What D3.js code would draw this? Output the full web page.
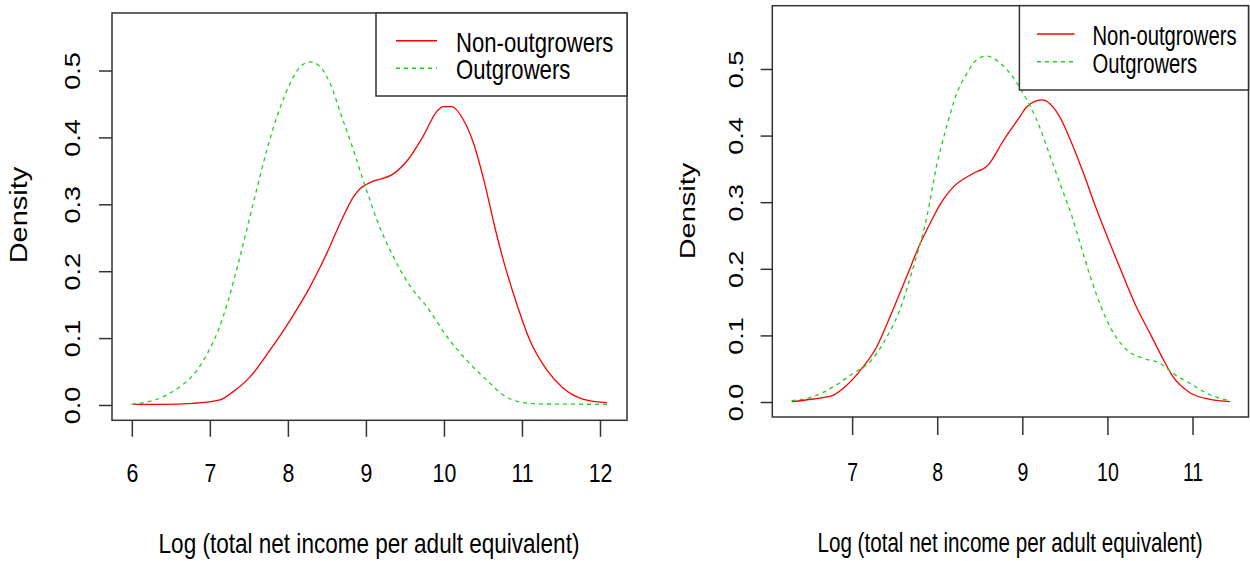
<!DOCTYPE html>
<html>
<head>
<meta charset="utf-8">
<script src="https://cdn.jsdelivr.net/npm/d3@7"></script>
<style>
  html, body { margin: 0; padding: 0; background: #fff; }
  svg { display: block; }
  text { font-family: "Liberation Sans", Arial, sans-serif; fill: #000; }
</style>
</head>
<body>
<svg id="chart" width="1250" height="561"></svg>
<script>
// ---------------- data ----------------
const seriesNames = ["Non-outgrowers", "Outgrowers"];
const xTitle = "Log (total net income per adult equivalent)";
const yTitle = "Density";
const yTicks = [0, 0.1, 0.2, 0.3, 0.4, 0.5];
const xTicksLeft = [6, 7, 8, 9, 10, 11, 12];
const xTicksRight = [7, 8, 9, 10, 11];

// Left panel
const leftNonX = [6.00, 6.40, 6.79, 7.13, 7.30, 7.515, 7.77, 8.03, 8.285, 8.50, 8.69, 8.84, 8.93, 9.01, 9.08, 9.20, 9.33, 9.52, 9.72, 9.91, 9.99, 10.10, 10.25, 10.38, 10.51, 10.66, 10.76, 10.93, 11.10, 11.32, 11.53, 11.79, 12.09];
const leftNonY = [0.001, 0.001, 0.0025, 0.0075, 0.020, 0.042, 0.082, 0.127, 0.177, 0.227, 0.277, 0.311, 0.324, 0.330, 0.334, 0.338, 0.344, 0.364, 0.399, 0.439, 0.446, 0.446, 0.426, 0.391, 0.337, 0.262, 0.217, 0.152, 0.097, 0.052, 0.025, 0.0085, 0.0035];
const leftOutX = [6.00, 6.105, 6.404, 6.618, 6.768, 6.896, 7.003, 7.109, 7.237, 7.365, 7.49, 7.60, 7.73, 7.86, 8.03, 8.16, 8.29, 8.41, 8.54, 8.69, 8.84, 8.99, 9.05, 9.14, 9.35, 9.57, 9.78, 10.04, 10.29, 10.55, 10.76, 11.02, 11.32, 12.09];
const leftOutY = [0.001, 0.0025, 0.0124, 0.0274, 0.0423, 0.0623, 0.0848, 0.112, 0.157, 0.212, 0.270, 0.322, 0.381, 0.431, 0.481, 0.506, 0.513, 0.506, 0.481, 0.431, 0.381, 0.327, 0.307, 0.277, 0.222, 0.177, 0.147, 0.102, 0.067, 0.037, 0.015, 0.0035, 0.0015, 0.001];

// Right panel
const rightNonX = [6.29, 6.54, 6.78, 6.94, 7.13, 7.29, 7.445, 7.64, 7.80, 7.935, 8.05, 8.19, 8.42, 8.60, 8.78, 8.97, 9.05, 9.23, 9.44, 9.56, 9.72, 9.87, 10.03, 10.19, 10.34, 10.50, 10.66, 10.77, 10.97, 11.21, 11.44];
const rightNonY = [0.0005, 0.0045, 0.0105, 0.0255, 0.053, 0.083, 0.128, 0.188, 0.238, 0.273, 0.300, 0.323, 0.343, 0.356, 0.393, 0.428, 0.443, 0.4535, 0.428, 0.395, 0.343, 0.290, 0.238, 0.188, 0.143, 0.103, 0.063, 0.038, 0.014, 0.004, 0.0005];
const rightOutX = [6.29, 6.54, 6.78, 7.01, 7.21, 7.41, 7.56, 7.72, 7.88, 7.99, 8.11, 8.23, 8.35, 8.46, 8.58, 8.74, 8.855, 9.01, 9.17, 9.33, 9.48, 9.58, 9.68, 9.80, 9.91, 10.03, 10.23, 10.42, 10.62, 10.77, 10.97, 11.21, 11.44];
const rightOutY = [0.002, 0.008, 0.023, 0.043, 0.0605, 0.098, 0.138, 0.203, 0.279, 0.353, 0.413, 0.4635, 0.4935, 0.5135, 0.5195, 0.5086, 0.4935, 0.4635, 0.4234, 0.368, 0.315, 0.280, 0.238, 0.188, 0.148, 0.113, 0.078, 0.0656, 0.058, 0.043, 0.028, 0.0105, 0.002];

// ---------------- drawing ----------------
const svg = d3.select("#chart");
svg.append("rect").attr("width", 1250).attr("height", 561).attr("fill", "#fff");

const RED = "#ff0000", GREEN = "#1fd01f", AXIS = "#333";

function zip(xs, ys) { return xs.map((x, i) => ({ x, y: ys[i] })); }

function drawPanel(cfg) {
  const SX = cfg.sx; // horizontal text compression of the original
  const x = d3.scaleLinear().domain(cfg.xDomain).range([cfg.left, cfg.right]);
  const y = d3.scaleLinear().domain(cfg.yDomain).range([cfg.bottom, cfg.top]);
  const g = svg.append("g");

  // curves
  const line = d3.line().x(d => x(d.x)).y(d => y(d.y)).curve(d3.curveMonotoneX);
  g.append("path").datum(zip(cfg.nonX, cfg.nonY))
    .attr("d", line).attr("fill", "none").attr("stroke", RED).attr("stroke-width", 1.3);
  g.append("path").datum(zip(cfg.outX, cfg.outY))
    .attr("d", line).attr("fill", "none").attr("stroke", GREEN).attr("stroke-width", 1.3)
    .attr("stroke-dasharray", "4,4");

  // plot box
  g.append("rect").attr("x", cfg.left).attr("y", cfg.top)
    .attr("width", cfg.right - cfg.left).attr("height", cfg.bottom - cfg.top)
    .attr("fill", "none").attr("stroke", AXIS).attr("stroke-width", 1.5);

  // x axis
  const xa = g.append("g").attr("transform", `translate(0,${cfg.bottom})`)
    .call(d3.axisBottom(x).tickValues(cfg.xTicks).tickSize(cfg.xTickLen).tickFormat(d3.format("d")));
  xa.select(".domain").remove();
  xa.selectAll(".tick line").attr("stroke", AXIS).attr("stroke-width", 1.5);
  xa.selectAll(".tick text")
    .attr("y", cfg.xLabelBase - cfg.bottom).attr("dy", null)
    .attr("transform", `scale(${SX},1)`)
    .attr("fill", "#000").style("font-size", "26px").attr("font-family", null);

  // y axis
  const ya = g.append("g").attr("transform", `translate(${cfg.left},0)`)
    .call(d3.axisLeft(y).tickValues(yTicks).tickSize(cfg.yTickLen).tickFormat(d3.format(".1f")));
  ya.select(".domain").remove();
  ya.selectAll(".tick line").attr("stroke", AXIS).attr("stroke-width", 1.5);
  ya.selectAll(".tick text")
    .attr("x", 0).attr("y", 0).attr("dy", null)
    .attr("text-anchor", "middle").attr("dominant-baseline", "central")
    .attr("transform", `translate(${cfg.yLabelX - cfg.left},0) scale(${SX},1) rotate(-90)`)
    .attr("fill", "#000").style("font-size", "27px").attr("font-family", null);

  // axis titles
  g.append("text")
    .attr("transform", `translate(${cfg.xTitleX},${cfg.xTitleBase}) scale(${SX},1)`)
    .attr("text-anchor", "middle").style("font-size", "27.5px").text(xTitle);
  g.append("text")
    .attr("transform", `translate(${cfg.yTitleX},${cfg.yTitleY}) scale(${SX},1) rotate(-90)`)
    .attr("text-anchor", "middle").attr("dominant-baseline", "central")
    .style("font-size", "29px").text(yTitle);

  // legend
  const L = cfg.legend;
  g.append("rect").attr("x", L.x0).attr("y", cfg.top).attr("width", cfg.right - L.x0)
    .attr("height", L.y1 - cfg.top).attr("fill", "#fff").attr("stroke", AXIS).attr("stroke-width", 1.5);
  const colors = [RED, GREEN], dashes = [null, "4,4"];
  seriesNames.forEach((name, i) => {
    g.append("line").attr("x1", L.lx0).attr("x2", L.lx1)
      .attr("y1", L.lineY[i]).attr("y2", L.lineY[i])
      .attr("stroke", colors[i]).attr("stroke-width", 1.5).attr("stroke-dasharray", dashes[i]);
    g.append("text")
      .attr("transform", `translate(${L.tx},${L.textBase[i]}) scale(${SX},1)`)
      .style("font-size", "27px").text(name);
  });
}

drawPanel({
  sx: 0.82,
  left: 112, right: 627, top: 13, bottom: 420.3,
  xDomain: [5.746, 12.346], yDomain: [-0.0229, 0.586],
  xTicks: xTicksLeft, xTickLen: 16.5, yTickLen: 13,
  xLabelBase: 482.5, yLabelX: 72,
  xTitleX: 369, xTitleBase: 553, yTitleX: 19, yTitleY: 215,
  nonX: leftNonX, nonY: leftNonY, outX: leftOutX, outY: leftOutY,
  legend: { x0: 376, y1: 96, lx0: 396, lx1: 437, lineY: [40.7, 68.3], tx: 456, textBase: [51.7, 79.2] }
});

drawPanel({
  sx: 0.75,
  left: 772.3, right: 1248.5, top: 5.7, bottom: 417,
  xDomain: [6.062, 11.658], yDomain: [-0.0225, 0.595],
  xTicks: xTicksRight, xTickLen: 18, yTickLen: 11.7,
  xLabelBase: 481, yLabelX: 736,
  xTitleX: 1010, xTitleBase: 551.5, yTitleX: 687.5, yTitleY: 211,
  nonX: rightNonX, nonY: rightNonY, outX: rightOutX, outY: rightOutY,
  legend: { x0: 1019.4, y1: 90, lx0: 1037, lx1: 1074.5, lineY: [34, 61.7], tx: 1092.5, textBase: [45, 73] }
});
</script>
</body>
</html>
